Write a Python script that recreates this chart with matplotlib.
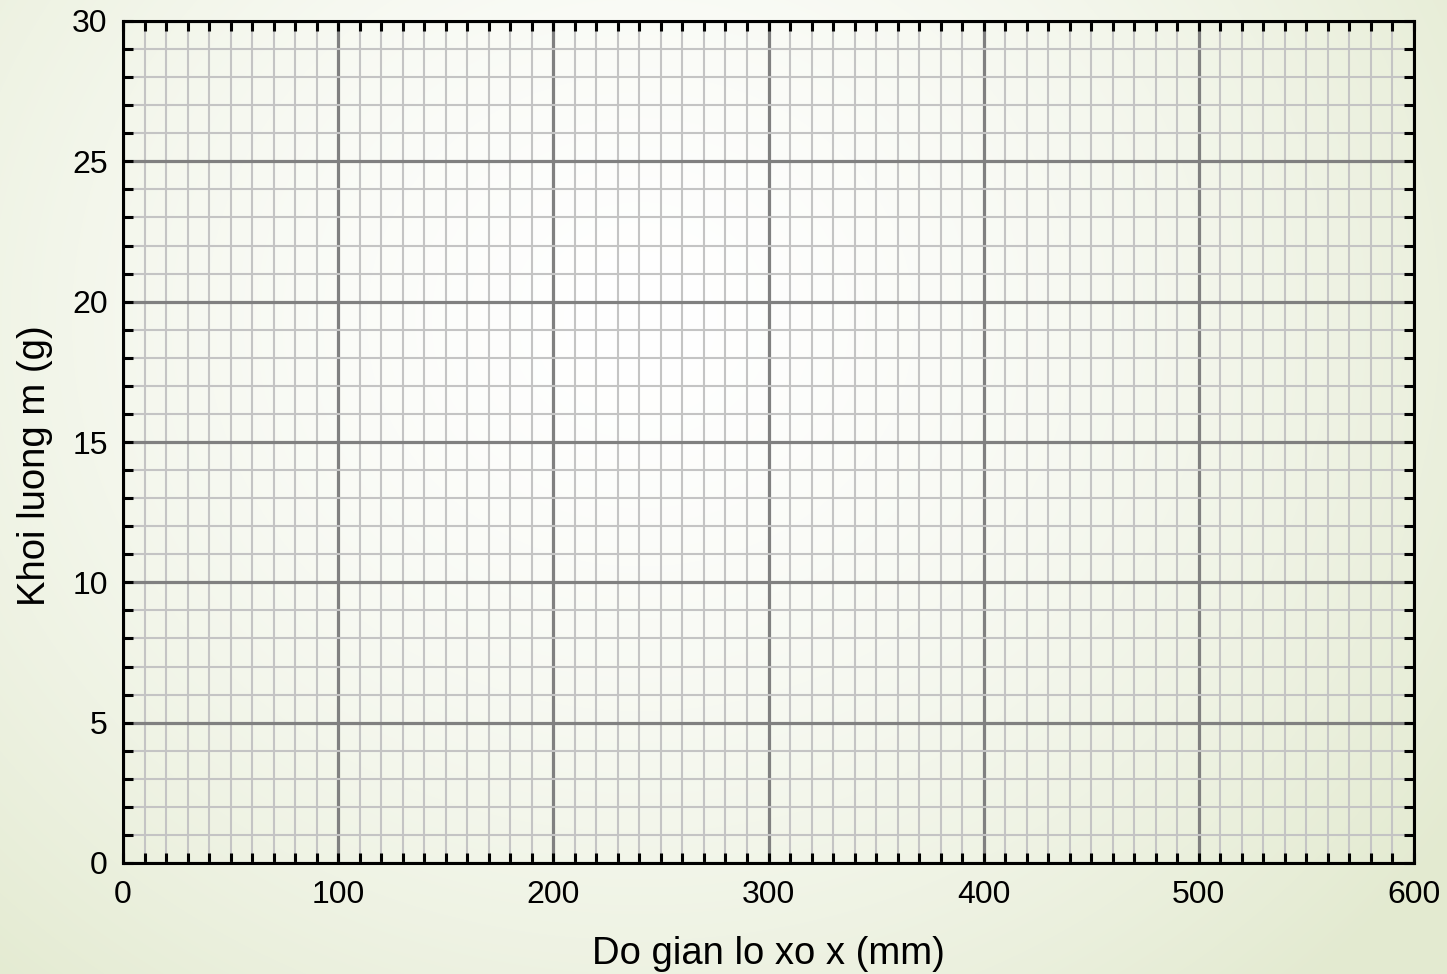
import numpy as np
import matplotlib
matplotlib.use("Agg")
import matplotlib.pyplot as plt
from matplotlib.ticker import MultipleLocator

plt.rcParams['font.family'] = ['Liberation Sans', 'DejaVu Sans']

# axis ranges and ticks
x_range = [0, 600]
y_range = [0, 30]
x_major = [0, 100, 200, 300, 400, 500, 600]
y_major = [0, 5, 10, 15, 20, 25, 30]
x_minor_step = 10
y_minor_step = 1
x_label = "Do gian lo xo x (mm)"
y_label = "Khoi luong m (g)"

fig = plt.figure(figsize=(14.47, 9.74), dpi=100)

# soft radial gradient background (white centre, pale green edges)
bg = fig.add_axes([0, 0, 1, 1], zorder=-10)
h, w = 974, 1447
yy, xx = np.mgrid[0:h, 0:w]
r = np.sqrt(((xx - 640) / 1000.0) ** 2 + ((yy - 320) / 900.0) ** 2)
r = np.clip(r, 0, 1) ** 1.5
c0 = np.array([1.0, 1.0, 1.0])
c1 = np.array([0xe3, 0xea, 0xd0]) / 255.0
img = c0[None, None, :] * (1 - r[..., None]) + c1[None, None, :] * r[..., None]
bg.imshow(img, aspect='auto', extent=[0, 1, 0, 1], origin='upper')
bg.axis('off')

ax = fig.add_axes([123 / 1447, 1 - 863 / 974, (1414 - 123) / 1447, (863 - 21) / 974])
ax.patch.set_alpha(0)
ax.set_xlim(x_range)
ax.set_ylim(y_range)
ax.set_xticks(x_major)
ax.set_yticks(y_major)
ax.xaxis.set_minor_locator(MultipleLocator(x_minor_step))
ax.yaxis.set_minor_locator(MultipleLocator(y_minor_step))

ax.grid(which='minor', color='#c4c4c4', linewidth=1.5, zorder=0)
ax.grid(which='major', color='#808080', linewidth=2.3, zorder=1)
ax.set_axisbelow(True)

ax.tick_params(which='both', direction='in', top=True, right=True,
               length=7, width=2.2, color='black')
ax.tick_params(axis='x', labelsize=23, pad=12)
ax.tick_params(axis='y', labelsize=23, pad=11)
for s in ax.spines.values():
    s.set_linewidth(2.2)
    s.set_color('black')

ax.set_xlabel(x_label, fontsize=27.5, labelpad=19)
ax.set_ylabel(y_label, fontsize=27.5, labelpad=14)
ax.yaxis.label.set_y(0.472)

fig.savefig("out.png", dpi=100)
